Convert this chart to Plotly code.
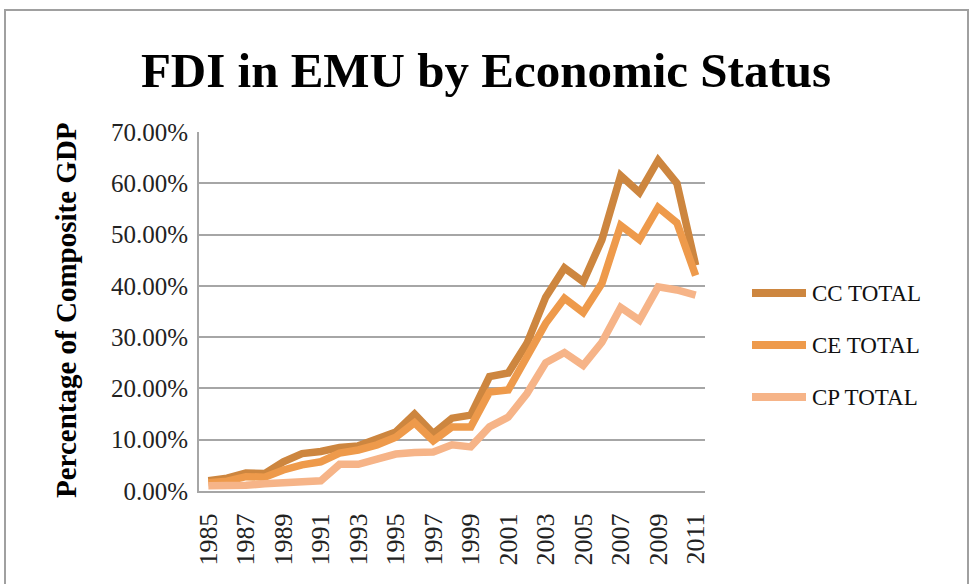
import plotly.graph_objects as go

years = list(range(1985, 2012))
cc_total = [2.0, 2.5, 3.5, 3.4, 5.7, 7.3, 7.7, 8.5, 8.8, 10.0, 11.5, 15.0, 11.2, 14.2, 14.8, 22.3, 23.0, 28.8, 37.8, 43.5, 40.8, 49.0, 61.5, 58.2, 64.5, 60.0, 44.0]
ce_total = [1.6, 1.9, 2.8, 2.7, 4.1, 5.1, 5.7, 7.4, 8.0, 9.0, 10.5, 13.3, 9.8, 12.5, 12.5, 19.3, 19.7, 26.0, 32.7, 37.6, 34.8, 40.5, 51.8, 49.0, 55.3, 52.3, 42.0]
cp_total = [1.0, 0.9, 1.1, 1.4, 1.6, 2.0, 2.0, 5.2, 5.2, 6.2, 7.2, 7.5, 7.6, 9.0, 8.6, 12.5, 14.4, 19.0, 25.0, 27.0, 24.5, 29.0, 35.8, 33.3, 39.8, 39.2, 38.2]
series_names = ["CC TOTAL", "CE TOTAL", "CP TOTAL"]
colors = ["#CD863F", "#EE9A4B", "#F6B488"]
tick_years = list(range(1985, 2012, 2))

SERIF = "Liberation Serif, Times New Roman, serif"

fig = go.Figure()
for name, vals, col in zip(series_names, [cc_total, ce_total, cp_total], colors):
    fig.add_trace(go.Scatter(
        x=years, y=[v / 100 for v in vals], mode="lines", name=name,
        line=dict(color=col, width=7.5), showlegend=False,
    ))

W, H = 972, 584
L, T = 199, 132
plot_right, plot_bottom = 705, 491
R = W - plot_right
B = H - plot_bottom
pw = W - L - R
ph = H - T - B

def px(xs):
    return (xs - L) / pw

def py(ys):
    return (plot_bottom - ys) / ph

shapes = [
    dict(type="rect", xref="paper", yref="paper", x0=px(5), x1=px(968), y0=py(640), y1=py(10),
         line=dict(color="#A0A0A0", width=2), fillcolor="rgba(0,0,0,0)", layer="below"),
]
annotations = [
    dict(text="<b>Percentage of Composite GDP</b>", xref="paper", yref="paper",
         x=px(66), y=py(310), textangle=-90, showarrow=False,
         font=dict(family=SERIF, size=29, color="#000000"), xanchor="center", yanchor="middle"),
]
legend_y = [293, 345, 397]
for name, col, ly in zip(series_names, colors, legend_y):
    shapes.append(dict(type="line", xref="paper", yref="paper", x0=px(752), x1=px(806),
                       y0=py(ly), y1=py(ly), line=dict(color=col, width=8)))
    annotations.append(dict(text=name, xref="paper", yref="paper", x=px(810), y=py(ly),
                            xanchor="left", yanchor="middle", showarrow=False,
                            font=dict(family=SERIF, size=23, color="#111111")))

fig.update_layout(
    width=W, height=H,
    margin=dict(l=L, r=R, t=T, b=B, autoexpand=False),
    paper_bgcolor="white", plot_bgcolor="white",
    title=dict(text="<b>FDI in EMU by Economic Status</b>", xref="container", yref="container",
               x=486 / W, y=1 - 70 / H, xanchor="center", yanchor="middle",
               font=dict(family=SERIF, size=49, color="#000000")),
    shapes=shapes, annotations=annotations,
    showlegend=False,
)
fig.update_yaxes(
    range=[0, 0.7], dtick=0.1, tick0=0, tickformat=".2%",
    showgrid=True, gridcolor="#A6A6A6", gridwidth=2,
    showline=True, linecolor="#A6A6A6", linewidth=2,
    zeroline=False, ticks="", ticklabelstandoff=4,
    tickfont=dict(family=SERIF, size=25, color="#222222"),
)
fig.update_xaxes(
    range=[1984.5, 2011.5], tickvals=tick_years, ticktext=[str(y) for y in tick_years],
    tickangle=-90, showgrid=False, showline=True, linecolor="#A6A6A6", linewidth=2,
    zeroline=False, ticks="", ticklabelstandoff=10,
    tickfont=dict(family=SERIF, size=26, color="#222222"),
)

fig.write_html(
    "out.html",
    config={"displayModeBar": False},
    post_script="document.body.style.margin='0';document.body.style.overflow='hidden';",
)
